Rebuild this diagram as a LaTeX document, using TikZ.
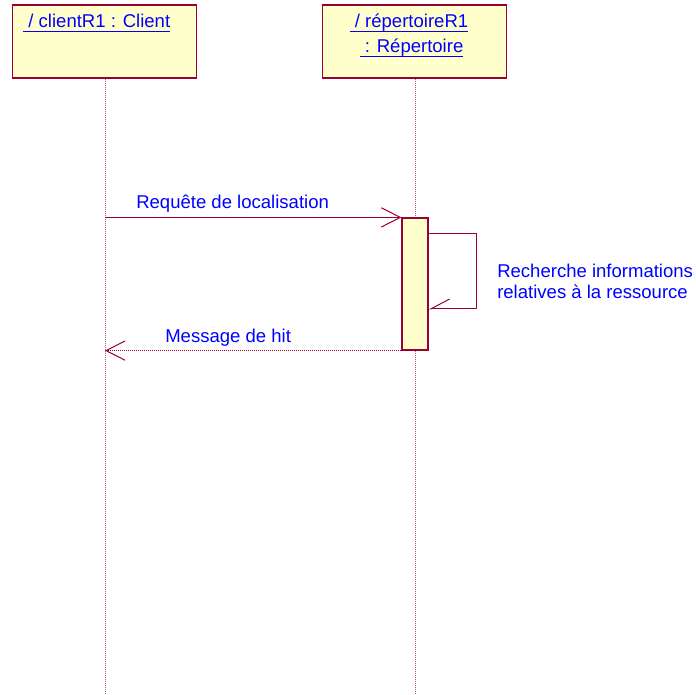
\documentclass[tikz,border=0pt]{standalone}
\usepackage{fontspec}
\setmainfont{Liberation Sans}
\usepackage{xcolor}
\definecolor{umlred}{HTML}{990033}
\definecolor{umlpink}{HTML}{C05080}
\definecolor{umlyellow}{HTML}{FFFFCC}
\definecolor{umlblue}{HTML}{0000FF}
\usepackage{tikz}
\usetikzlibrary{positioning, arrows.meta}
\newcommand{\objname}[1]{\setbox0\hbox{#1}\rlap{\rule[-3pt]{\wd0}{0.75pt}}\box0}

\begin{document}
\begin{tikzpicture}[x=0.75pt, y=-0.75pt,
    objbox/.style={draw=umlred, fill=umlyellow, line width=0.9pt, minimum width=138pt, minimum height=54.75pt, inner sep=0pt},
    actbox/.style={draw=umlred, fill=umlyellow, line width=0.9pt, minimum width=19.5pt, minimum height=99pt, inner sep=0pt},
    lifeline/.style={umlpink, line width=0.6pt, dash pattern=on 0.75pt off 0.75pt},
    msg/.style={umlred, line width=0.75pt, -{Straight Barb[length=14.25pt, width=14.5pt]}},
    selfmsg/.style={umlred, line width=0.75pt, -{Straight Barb[right, length=14.25pt, width=15pt]}},
    retmsg/.style={umlred, line width=0.75pt, dash pattern=on 0.75pt off 0.75pt, -{Straight Barb[length=14.25pt, width=14.5pt]}},
    txt/.style={text=umlblue, font=\fontsize{13.9}{16.5}\selectfont, inner sep=0pt}]
    \useasboundingbox (0,0) rectangle (696,695);
    % objets
    \node[objbox] (client) at (104.5,41.5) {};
    \node[objbox] (rep) at (414.5,41.5) {};
    \node[txt, anchor=base west] (clientlbl) at (23,28) {\objname{\ / clientR1 : Client}};
    \node[txt, anchor=base] (replbl) at (409,28) {\objname{\ / répertoireR1}};
    \node[txt, anchor=base] (reptype) at (411.5,53) {\objname{\ : Répertoire}};
    % lignes de vie
    \foreach \obj/\x in {client/105, rep/415} {
        \coordinate (\obj end) at (\x,695);
        \draw[lifeline] (\obj.south -| \obj end) -- (\obj end);
    }
    \node[actbox] (act) at (415,284) {};
    % messages
    \draw[msg] (clientend |- act.north) -- (act.north west);
    \node[txt, anchor=base west] (reqlbl) at (136,209) {Requête de localisation};
    \coordinate (loopa) at (476,234);
    \coordinate (loopb) at (476,309);
    \draw[selfmsg] (act.east |- loopa) -- (loopa) -- (loopb) -- (act.east |- loopb);
    \node[txt, anchor=base west, align=left] (rechlbl) at (497,299) {Recherche informations\\relatives à la ressource};
    \draw[retmsg] (act.south west) -- (clientend |- act.south);
    \node[txt, anchor=base west] (hitlbl) at (165,342) {Message de hit};
\end{tikzpicture}
\end{document}
